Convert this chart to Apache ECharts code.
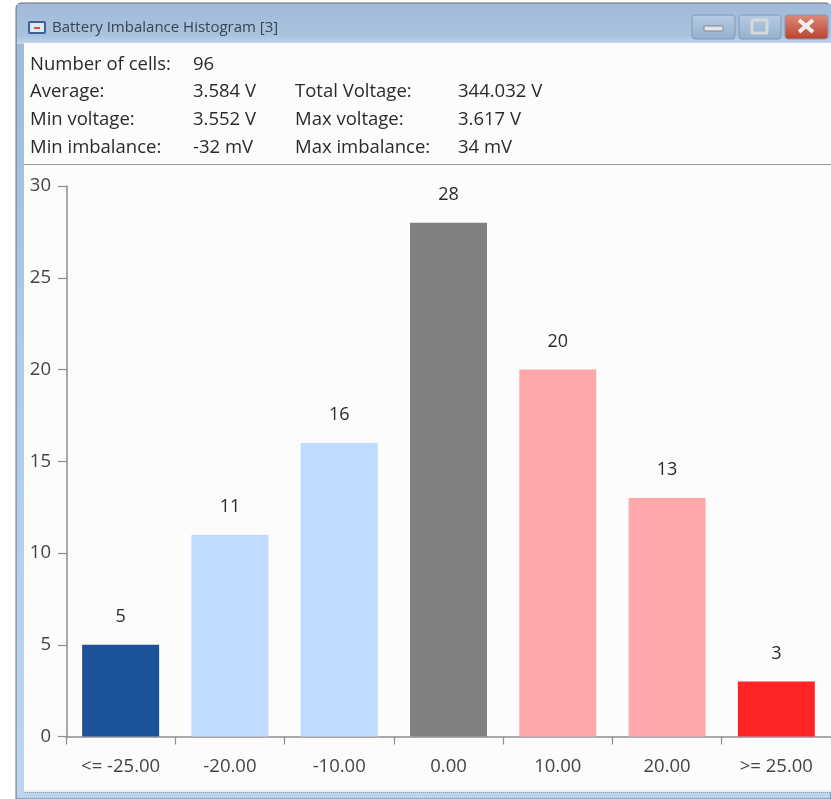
<!DOCTYPE html>
<html><head><meta charset="utf-8">
<script src="https://cdn.jsdelivr.net/npm/echarts@6/dist/echarts.min.js"></script>
<style>html,body{margin:0;padding:0;background:#fff;overflow:hidden}#c{width:831px;height:799px}</style>
</head><body><div id="c"></div>
<script>
const categories = ['<= -25.00','-20.00','-10.00','0.00','10.00','20.00','>= 25.00'];
const counts = [5,11,16,28,20,13,3];
const tickLabels = [0,5,10,15,20,25,30];
const barColors = ['#1c5299','#bfdbff','#bfdbff','#808080','#ffa8ab','#ffa8ab','#ff2526'];
const windowTitle = 'Battery Imbalance Histogram [3]';
const statRows = [
  ['Number of cells:','96','',''],
  ['Average:','3.584 V','Total Voltage:','344.032 V'],
  ['Min voltage:','3.552 V','Max voltage:','3.617 V'],
  ['Min imbalance:','-32 mV','Max imbalance:','34 mV']
];
const FONT = '"Open Sans"';
const statCols = [30,193,295,458], statY = [65,92,120,148];
const g = [];
const rect = (x,y,w,h,fill,extra) => g.push(Object.assign({type:'rect',silent:true,z:-10,shape:{x,y,width:w,height:h},style:{fill}},extra||{}));
const vgrad = (a,b) => ({type:'linear',x:0,y:0,x2:0,y2:1,colorStops:[{offset:0,color:a},{offset:1,color:b}]});
// window frame
rect(16,3,815,796,'#fff',{shape:{x:16,y:3,width:815,height:796,r:[5,5,0,0]},style:{fill:{type:'linear',x:0,y:0,x2:0,y2:1,colorStops:[{offset:0,color:'#9db8d6'},{offset:0.4,color:'#aec9e6'},{offset:1,color:'#bcd6f2'}]},stroke:'#6b6f75',lineWidth:1}});
rect(17,4,814,40,{type:'linear',x:0,y:0,x2:0,y2:1,colorStops:[{offset:0,color:'#a0bad8'},{offset:0.8,color:'#a9c3df'},{offset:1,color:'#c4d8ee'}]});
rect(24,43,807,747,'#fcfcfc');
rect(24,790,807,2,'#ececec');
g.push({type:'line',silent:true,z:-9,shape:{x1:25,y1:792.5,x2:831,y2:792.5},style:{stroke:'#9a9a9a',lineWidth:1,lineDash:[1,1]}});
rect(24,164,807,1,'#9a9a9a');
// title icon
rect(28,21,18,13,'#3d5f9e',{shape:{x:28,y:21,width:18,height:13,r:2}});
rect(30,23,14,9,'#dfe7f4');
rect(34,27,6,2,'#d0533f');
g.push({type:'text',silent:true,z:-5,style:{x:52,y:28,text:windowTitle,font:'15px '+FONT,fill:'#3a4350',align:'left',verticalAlign:'middle'}});
// caption buttons
const btn = (x,w,a,b) => rect(x,15,w,24,vgrad(a,b),{shape:{x,y:15,width:w,height:24,r:3},style:{fill:vgrad(a,b),stroke:'#8399b5',lineWidth:1}});
btn(692,43,'#b6cce4','#94afcc');
btn(739,42,'#b6cce4','#94afcc');
btn(785,43,'#dd8a7c','#b9412c');
rect(704,26,19,5,'#e6e6e6',{shape:{x:704,y:26,width:19,height:5,r:1},style:{fill:'#e6e6e6',stroke:'#7d8794',lineWidth:1}});
g.push({type:'rect',silent:true,z:-5,shape:{x:752,y:20,width:15,height:13,r:1},style:{fill:'transparent',stroke:'#d8d8d8',lineWidth:3}});
[[[799,20],[813,32]],[[813,20],[799,32]]].forEach(p=>g.push({type:'line',silent:true,z:-5,shape:{x1:p[0][0],y1:p[0][1],x2:p[1][0],y2:p[1][1]},style:{stroke:'#eeeeee',lineWidth:4}}));
// stats
statRows.forEach((row,r)=>row.forEach((t,c)=>{ if(t) g.push({type:'text',silent:true,z:5,style:{x:statCols[c],y:statY[r],text:t,font:'18.5px '+FONT,fill:'#2a2a2a',align:'left',verticalAlign:'middle'}}); }));

const chart = echarts.init(document.getElementById('c'),null,{renderer:'canvas'});
chart.setOption({
  animation:false,
  graphic:{elements:g},
  grid:{left:66,right:0,top:186,bottom:62.5,containLabel:false},
  xAxis:{type:'category',data:categories,boundaryGap:true,
    axisLine:{show:true,lineStyle:{color:'#8e8e8e',width:1.5}},
    axisTick:{show:true,alignWithLabel:false,length:8,lineStyle:{color:'#8e8e8e',width:1.2}},
    axisLabel:{interval:0,margin:21,fontFamily:FONT,fontSize:18.5,color:'#444',hideOverlap:false,showMinLabel:true,showMaxLabel:true},
    splitLine:{show:false}},
  yAxis:{type:'value',min:0,max:30,interval:5,offset:-1,
    axisLine:{show:true,lineStyle:{color:'#8e8e8e',width:1.5}},
    axisTick:{show:true,length:9,lineStyle:{color:'#8e8e8e',width:1.2}},
    axisLabel:{margin:16,padding:[2,0,0,0],fontFamily:FONT,fontSize:18.5,color:'#444',formatter:v=>tickLabels.includes(v)?String(v):''},
    splitLine:{show:false}},
  series:[{type:'bar',barWidth:77,
    data:counts.map((v,i)=>({value:v,itemStyle:{color:barColors[i]}})),
    label:{show:true,position:'top',distance:19,fontFamily:FONT,fontSize:18,color:'#2a2a2a'}}]
});
</script></body></html>
